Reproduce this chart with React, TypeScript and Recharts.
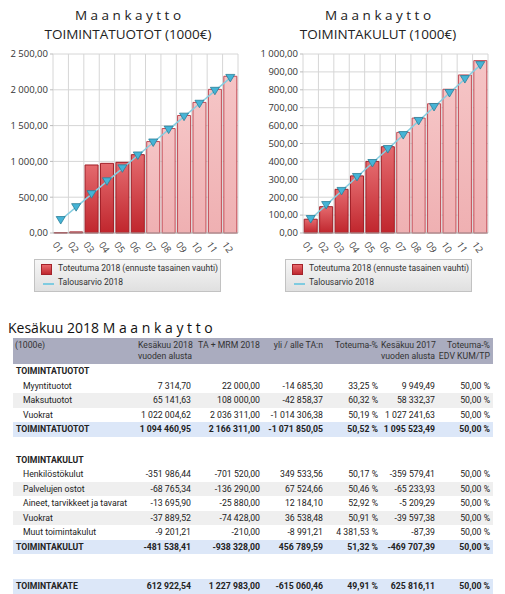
import { ComposedChart, Bar, Line, XAxis, YAxis, CartesianGrid, Cell } from "recharts";

const months = ["01", "02", "03", "04", "05", "06", "07", "08", "09", "10", "11", "12"];

// cumulative, 1000 €; months 07-12 are the even-pace forecast
const tuototActual = [5, 15, 950, 973, 987, 1094, 1277, 1459, 1641, 1824, 2006, 2189];
const tuototBudget = [181, 361, 542, 722, 903, 1083, 1264, 1444, 1625, 1805, 1986, 2166];
const kulutActual = [77, 147, 244, 319, 400, 482, 562, 642, 722, 803, 883, 963];
const kulutBudget = [78, 156, 235, 313, 391, 469, 547, 626, 704, 782, 860, 938];
const forecastStart = 6;

const tuototTicks = [0, 500, 1000, 1500, 2000, 2500];
const kulutTicks = [0, 100, 200, 300, 400, 500, 600, 700, 800, 900, 1000];

const seriesActual = "Toteutuma 2018 (ennuste tasainen vauhti)";
const seriesBudget = "Talousarvio 2018";

const tableTitle = "Kesäkuu 2018 M a a n k a y t t o";
const tableHeaders = [
    ["(1000e)"],
    ["Kesäkuu 2018", "vuoden alusta"],
    ["TA + MRM 2018"],
    ["yli / alle TA:n"],
    ["Toteuma-%"],
    ["Kesäkuu 2017", "vuoden alusta"],
    ["Toteuma-%", "EDV KUM/TP"],
];
const tuototRows = [
    ["Myyntituotot", "7 314,70", "22 000,00", "-14 685,30", "33,25 %", "9 949,49", "50,00 %"],
    ["Maksutuotot", "65 141,63", "108 000,00", "-42 858,37", "60,32 %", "58 332,37", "50,00 %"],
    ["Vuokrat", "1 022 004,62", "2 036 311,00", "-1 014 306,38", "50,19 %", "1 027 241,63", "50,00 %"],
];
const tuototTotal = ["TOIMINTATUOTOT", "1 094 460,95", "2 166 311,00", "-1 071 850,05", "50,52 %", "1 095 523,49", "50,00 %"];
const kulutRows = [
    ["Henkilöstökulut", "-351 986,44", "-701 520,00", "349 533,56", "50,17 %", "-359 579,41", "50,00 %"],
    ["Palvelujen ostot", "-68 765,34", "-136 290,00", "67 524,66", "50,46 %", "-65 233,93", "50,00 %"],
    ["Aineet, tarvikkeet ja tavarat", "-13 695,90", "-25 880,00", "12 184,10", "52,92 %", "-5 209,29", "50,00 %"],
    ["Vuokrat", "-37 889,52", "-74 428,00", "36 538,48", "50,91 %", "-39 597,38", "50,00 %"],
    ["Muut toimintakulut", "-9 201,21", "-210,00", "-8 991,21", "4 381,53 %", "-87,39", "50,00 %"],
];
const kulutTotal = ["TOIMINTAKULUT", "-481 538,41", "-938 328,00", "456 789,59", "51,32 %", "-469 707,39", "50,00 %"];
const kateTotal = ["TOIMINTAKATE", "612 922,54", "1 227 983,00", "-615 060,46", "49,91 %", "625 816,11", "50,00 %"];

const colWidths = [125, 56, 69, 63, 55, 57, 55];

const titleFont = "'Open Sans', sans-serif";
const narrowFont = "Roboto, sans-serif";

function formatTick(value: number) {
    const fixed = value.toFixed(2);
    const [intPart, dec] = fixed.split(".");
    // non-breaking space so the tick text never wraps
    const grouped = intPart.replace(/\B(?=(\d{3})+(?!\d))/g, "\u00a0");
    return `${grouped},${dec}`;
}

function TriangleDot(props: any) {
    const { cx, cy, index } = props;
    if (cx == null || cy == null) return null;
    return (
        <path
            key={`dot-${index}`}
            d={`M${cx - 4.5},${cy - 3.5} L${cx + 4.5},${cy - 3.5} L${cx},${cy + 4} Z`}
            fill="#45b4d6"
            stroke="#2b7f98"
            strokeWidth={0.8}
        />
    );
}

function LegendBox({ left }: { left: number }) {
    return (
        <div
            style={{
                position: "absolute",
                left,
                top: 259,
                width: 185,
                height: 31,
                border: "1px solid #c2c2c2",
                background: "linear-gradient(#f6f6f6, #e0e0e0)",
                fontFamily: narrowFont,
                fontSize: 8.5,
                color: "#333",
            }}
        >
            <div
                style={{
                    position: "absolute",
                    left: 6,
                    top: 4,
                    width: 9,
                    height: 9,
                    border: "1px solid #a3222a",
                    background: "linear-gradient(#e8686c, #c0282f)",
                }}
            />
            <div style={{ position: "absolute", left: 23, top: 3, whiteSpace: "nowrap" }}>{seriesActual}</div>
            <div
                style={{
                    position: "absolute",
                    left: 8,
                    top: 23,
                    width: 11,
                    height: 2,
                    background: "#7fcbe0",
                }}
            />
            <div style={{ position: "absolute", left: 23, top: 17, whiteSpace: "nowrap" }}>{seriesBudget}</div>
        </div>
    );
}

type MiniChartProps = {
    id: string;
    left: number;
    heading: string;
    actual: number[];
    budget: number[];
    ticks: number[];
};

function MiniChart({ id, left, heading, actual, budget, ticks }: MiniChartProps) {
    const data = months.map((m, i) => ({ month: m, actual: actual[i], budget: budget[i] }));
    return (
        <div style={{ position: "absolute", left, top: 0, width: 256, height: 300 }}>
            <div
                style={{
                    position: "absolute",
                    left: 0,
                    top: 6,
                    width: 256,
                    textAlign: "center",
                    fontFamily: titleFont,
                    fontSize: 13.5,
                    lineHeight: "19px",
                    color: "#222",
                }}
            >
                <div>M a a n k a y t t o</div>
                <div>{heading}</div>
            </div>
            <div style={{ position: "absolute", left: 0, top: 0 }}>
                <ComposedChart
                    width={256}
                    height={255}
                    data={data}
                    margin={{ top: 54, right: 18, left: 0, bottom: 0 }}
                    barCategoryGap="8%"
                >
                    <defs>
                        <linearGradient id={`${id}-dark`} x1="0" y1="0" x2="0" y2="1">
                            <stop offset="0%" stopColor="#e46a6e" />
                            <stop offset="100%" stopColor="#c0262d" />
                        </linearGradient>
                        <linearGradient id={`${id}-light`} x1="0" y1="0" x2="0" y2="1">
                            <stop offset="0%" stopColor="#f5c4c5" />
                            <stop offset="100%" stopColor="#efb0b2" />
                        </linearGradient>
                    </defs>
                    <CartesianGrid
                        stroke="#d6d6d6"
                        verticalCoordinatesGenerator={({ offset }: any) =>
                            months.map((_, i) => offset.left + (i * offset.width) / months.length).concat(offset.left + offset.width)
                        }
                    />
                    <XAxis
                        dataKey="month"
                        interval={0}
                        angle={55}
                        textAnchor="start"
                        dx={-3}
                        tickLine={false}
                        axisLine={{ stroke: "#a8a8a8" }}
                        height={22}
                        tick={{ fontSize: 9.5, fill: "#444", fontFamily: titleFont }}
                    />
                    <YAxis
                        width={53}
                        domain={[ticks[0], ticks[ticks.length - 1]]}
                        ticks={ticks}
                        interval={0}
                        axisLine={false}
                        tickSize={3}
                        tickLine={{ stroke: "#bbbbbb" }}
                        tickFormatter={formatTick}
                        tick={{ fontSize: 9.5, fill: "#333", fontFamily: titleFont }}
                    />
                    <Bar dataKey="actual" isAnimationActive={false}>
                        {data.map((d, i) => (
                            <Cell
                                key={d.month}
                                fill={i < forecastStart ? `url(#${id}-dark)` : `url(#${id}-light)`}
                                stroke={i < forecastStart ? "#a01f27" : "#c24a54"}
                                strokeWidth={1}
                            />
                        ))}
                    </Bar>
                    <Line
                        type="linear"
                        dataKey="budget"
                        stroke="#86cde0"
                        strokeWidth={1.5}
                        dot={TriangleDot}
                        activeDot={false}
                        isAnimationActive={false}
                    />
                </ComposedChart>
            </div>
        </div>
    );
}

type RowKind = "section" | "item" | "total";

function TableRow({ cells, kind, shaded }: { cells: string[]; kind: RowKind; shaded?: boolean }) {
    const bg = kind === "total" ? "#dce7f8" : shaded ? "#efefef" : "transparent";
    return (
        <div style={{ display: "flex", height: 14.5, background: bg, fontWeight: kind === "item" ? 400 : 700 }}>
            {colWidths.map((w, i) => (
                <div
                    key={i}
                    style={{
                        width: w,
                        flexShrink: 0,
                        boxSizing: "border-box",
                        lineHeight: "14.5px",
                        whiteSpace: "nowrap",
                        textAlign: i === 0 ? "left" : "right",
                        paddingLeft: i === 0 ? (kind === "item" ? 10 : 3) : 0,
                        paddingRight: i === 0 ? 0 : 3,
                    }}
                >
                    {cells[i] ?? ""}
                </div>
            ))}
        </div>
    );
}

function SummaryTable() {
    return (
        <>
            <div
                style={{
                    position: "absolute",
                    left: 8,
                    top: 318,
                    fontFamily: titleFont,
                    fontSize: 14,
                    lineHeight: "19px",
                    color: "#111",
                    whiteSpace: "nowrap",
                }}
            >
                {tableTitle}
            </div>
            <div
                style={{
                    position: "absolute",
                    left: 13,
                    top: 338,
                    width: 480,
                    fontFamily: narrowFont,
                    fontSize: 8.7,
                    color: "#222",
                }}
            >
                <div style={{ display: "flex", height: 26, background: "#aaacbf", color: "#333" }}>
                    {tableHeaders.map((lines, i) => (
                        <div
                            key={i}
                            style={{
                                width: colWidths[i],
                                flexShrink: 0,
                                boxSizing: "border-box",
                                paddingTop: 2,
                                lineHeight: "10.5px",
                                whiteSpace: "nowrap",
                                textAlign: i === 0 ? "left" : "right",
                                paddingLeft: i === 0 ? 2 : 0,
                                paddingRight: i === 0 ? 0 : 3,
                            }}
                        >
                            {lines.map((l) => (
                                <div key={l}>{l}</div>
                            ))}
                        </div>
                    ))}
                </div>
                <TableRow cells={["TOIMINTATUOTOT"]} kind="section" />
                {tuototRows.map((r, i) => (
                    <TableRow key={r[0]} cells={r} kind="item" shaded={i % 2 === 1} />
                ))}
                <TableRow cells={tuototTotal} kind="total" />
                <div style={{ height: 16 }} />
                <TableRow cells={["TOIMINTAKULUT"]} kind="section" />
                {kulutRows.map((r, i) => (
                    <TableRow key={r[0] + i} cells={r} kind="item" shaded={i % 2 === 1} />
                ))}
                <TableRow cells={kulutTotal} kind="total" />
                <div style={{ height: 25 }} />
                <TableRow cells={kateTotal} kind="total" />
            </div>
        </>
    );
}

export default function App() {
    return (
        <div
            style={{
                position: "absolute",
                left: 0,
                top: 0,
                width: 505,
                height: 594,
                background: "#fff",
                overflow: "hidden",
            }}
        >
            <MiniChart id="tuotot" left={0} heading="TOIMINTATUOTOT (1000€)" actual={tuototActual} budget={tuototBudget} ticks={tuototTicks} />
            <LegendBox left={34} />
            <MiniChart id="kulut" left={250} heading="TOIMINTAKULUT (1000€)" actual={kulutActual} budget={kulutBudget} ticks={kulutTicks} />
            <LegendBox left={285} />
            <SummaryTable />
        </div>
    );
}
